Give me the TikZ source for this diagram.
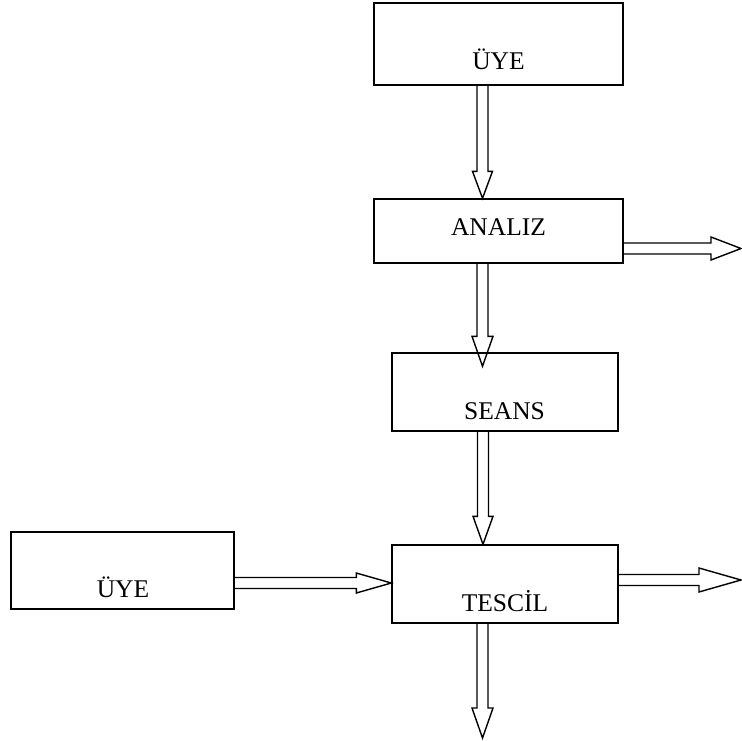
\documentclass[tikz,border=0pt]{standalone}
\usepackage{fontspec}
\setmainfont{Liberation Serif}
\usetikzlibrary{calc}
\tikzset{
  box/.style={draw, line width=1.4pt, minimum width=#1, inner sep=0pt},
  lbl/.style={anchor=base, inner sep=0pt, font=\fontsize{25.5}{30}\selectfont},
  fat/.style={draw, line width=1.4pt, line join=miter},
}
\newcommand\fatdown[4]{\draw[fat] let \p1=(#1), \p2=(#2) in
  (\x2-5.5pt,\y1) -- (\x2-5.5pt,\y2+#3) -- (\x2-#4,\y2+#3) -- (\x2,\y2) --
  (\x2+#4,\y2+#3) -- (\x2+5.5pt,\y2+#3) -- (\x2+5.5pt,\y1);}
\newcommand\fatright[4]{\draw[fat] let \p1=(#1), \p2=(#2) in
  (\x1,\y2+5.5pt) -- (\x2-#3,\y2+5.5pt) -- (\x2-#3,\y2+#4) -- (\x2,\y2) --
  (\x2-#3,\y2-#4) -- (\x2-#3,\y2-5.5pt) -- (\x1,\y2-5.5pt);}
\begin{document}
\begin{tikzpicture}[x=1pt,y=-1pt]
\path[use as bounding box] (0,0) rectangle (742,740);
% boxes
\node[box=249pt, minimum height=82pt] (top) at (498.5,44) {};
\node[box=249pt, minimum height=64pt] (analiz) at (498.5,231) {};
\node[box=226pt, minimum height=78pt] (seans) at (505,392) {};
\node[box=226pt, minimum height=78pt] (tescil) at (505,584) {};
\node[box=223pt, minimum height=77pt] (uye) at (122.5,570.5) {};
% labels
\node[lbl] (ttop) at (498.5,69) {ÜYE};
\node[lbl] (tanaliz) at (498.5,235) {ANALIZ};
\node[lbl] (tseans) at (504.5,419) {SEANS};
\node[lbl] (ttescil) at (505,611) {TESCİL};
\node[lbl] (tuye) at (123,597) {ÜYE};
% arrow tips
\coordinate (t1) at ($(analiz.north)+(-16,0)$);
\coordinate (t2) at ($(seans.north)+(-22.5,14)$);
\coordinate (t3) at ($(tescil.north)+(-22,0)$);
\coordinate (o1) at (741,248.5);
\coordinate (o2) at (741,580);
\coordinate (o3) at (482.5,738);
\coordinate (t4) at ($(tescil.west)+(0,-1)$);
% arrows
\fatdown{top.south}{t1}{27pt}{10pt}
\fatdown{analiz.south}{t2}{30pt}{10.5pt}
\fatdown{seans.south}{t3}{28pt}{10pt}
\fatdown{tescil.south}{o3}{30pt}{10.5pt}
\fatright{analiz.east}{o1}{30pt}{11.5pt}
\fatright{tescil.east}{o2}{42pt}{12pt}
\fatright{uye.east}{t4}{35pt}{10pt}
\end{tikzpicture}
\end{document}
